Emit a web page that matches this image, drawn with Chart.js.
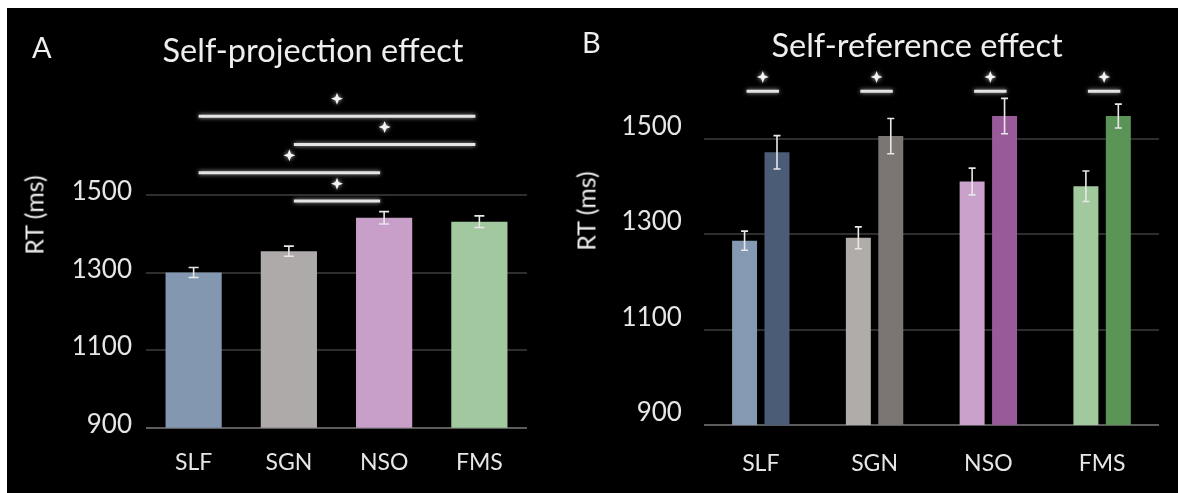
<!DOCTYPE html>
<html>
<head>
<meta charset="utf-8">
<script src="https://cdn.jsdelivr.net/npm/chart.js@4.4.0/dist/chart.umd.min.js"></script>
<style>
  body { margin: 0; background: #fff; width: 1178px; height: 493px; overflow: hidden; font-family: Lato, sans-serif; }
  #panel { position: absolute; left: 7px; top: 8px; width: 1171px; height: 485px; background: #000; }
  canvas { position: absolute; top: 0; }
  #chartA { left: 0; }
  #chartB { left: 560px; }
  .txt { position: absolute; color: #eeeeee; line-height: 1; white-space: nowrap; }
  .title { transform: translateX(-50%); font-size: 32.5px; }
  .ylab { font-size: 25px; transform: translate(-50%, -50%) rotate(-90deg); }
</style>
</head>
<body>
<div id="panel"></div>
<canvas id="chartA" width="560" height="493"></canvas>
<canvas id="chartB" width="618" height="493"></canvas>
<div class="txt" style="left:32px;top:32px;font-size:29px">A</div>
<div class="txt title" style="left:313px;top:34px">Self-projection effect</div>
<div class="txt ylab" style="left:34px;top:215px">RT (ms)</div>
<div class="txt" style="left:582px;top:27px;font-size:29px">B</div>
<div class="txt title" style="left:917px;top:29px">Self-reference effect</div>
<div class="txt ylab" style="left:586px;top:211px">RT (ms)</div>
<script>
var categories = ["SLF", "SGN", "NSO", "FMS"];
var yTicks = [900, 1100, 1300, 1500];

// panel A
var aValues = [1300, 1355, 1441, 1431];
var aErrors = [13, 13, 16, 15];
var aColors = ["#8397b0", "#aeaaa9", "#c79fc9", "#a2c89f"];
// significance brackets in A: from category, to category, height (ms)
var aSigFrom = [0, 1, 0, 1];
var aSigTo = [3, 3, 2, 2];
var aSigLevel = [1703, 1630, 1557, 1484];

// panel B
var bCond1 = [1286, 1292, 1410, 1400];
var bCond1Err = [20, 23, 28, 32];
var bCond2 = [1471, 1505, 1547, 1547];
var bCond2Err = [35, 37, 37, 25];
var bColors1 = ["#8599b3", "#b0aca9", "#c9a1cb", "#a2c89e"];
var bColors2 = ["#4b5c76", "#7b7574", "#985a98", "#5a9457"];
var bSigLevel = [1599, 1599, 1599, 1599];

var textColor = "#e6e6e6";
var font = "Lato, sans-serif";

var errorBars = {
  id: "errorBars",
  afterDatasetsDraw: function (chart, args, opts) {
    var ctx = chart.ctx, y = chart.scales.y;
    ctx.save();
    ctx.strokeStyle = "#e8e8e8";
    ctx.lineWidth = 1.6;
    chart.data.datasets.forEach(function (ds, i) {
      chart.getDatasetMeta(i).data.forEach(function (bar, j) {
        var t = y.getPixelForValue(ds.data[j] + ds.errors[j]);
        var b = y.getPixelForValue(ds.data[j] - ds.errors[j]);
        var w = opts.cap / 2;
        ctx.beginPath();
        ctx.moveTo(bar.x, t); ctx.lineTo(bar.x, b);
        ctx.moveTo(bar.x - w, t); ctx.lineTo(bar.x + w, t);
        ctx.moveTo(bar.x - w, b); ctx.lineTo(bar.x + w, b);
        ctx.stroke();
      });
    });
    ctx.restore();
  }
};

function star(ctx, x, y, r) {
  ctx.beginPath();
  for (var k = 0; k < 8; k++) {
    var ang = k * Math.PI / 4 - Math.PI / 2;
    var rad = k % 2 ? r * 0.4 : r;
    ctx.lineTo(x + rad * Math.cos(ang), y + rad * Math.sin(ang));
  }
  ctx.closePath();
  ctx.fill();
}

// brackets + stars; opts.get returns [x1, x2, value] list
var sigMarks = {
  id: "sigMarks",
  afterDraw: function (chart, args, opts) {
    var ctx = chart.ctx, y = chart.scales.y;
    ctx.save();
    ctx.strokeStyle = "#e4e4e4";
    ctx.fillStyle = "#f4f4f4";
    ctx.lineWidth = 3;
    ctx.shadowColor = "rgba(255,255,255,0.7)";
    ctx.shadowBlur = 4;
    opts.get(chart).forEach(function (s) {
      var py = y.getPixelForValue(s[2]);
      ctx.beginPath();
      ctx.moveTo(s[0], py); ctx.lineTo(s[1], py);
      ctx.stroke();
      star(ctx, (s[0] + s[1]) / 2, y.getPixelForValue(s[2] + opts.starGap), 6);
    });
    ctx.restore();
  }
};

function yScale(max, width, pad, offset) {
  return {
    min: 900, max: max,
    afterBuildTicks: function (a) { a.ticks = yTicks.map(function (v) { return { value: v }; }); },
    grid: { color: function (c) { return c.tick.value === 900 ? "#5c5c5c" : "#2e2e2e"; }, lineWidth: 2, drawTicks: false },
    border: { display: false },
    ticks: { color: textColor, font: { family: font, size: 26 }, padding: pad, labelOffset: offset,
      callback: function (v) { return String(v); } },
    afterFit: function (a) { a.width = width; }
  };
}

function xScale(height, pad) {
  return {
    grid: { display: false, drawTicks: false },
    border: { display: false },
    ticks: { color: textColor, font: { family: font, size: 23 }, padding: pad },
    afterFit: function (a) { a.height = height; }
  };
}

new Chart(document.getElementById("chartA"), {
  type: "bar",
  data: {
    labels: categories,
    datasets: [{ data: aValues, errors: aErrors, backgroundColor: aColors,
      categoryPercentage: 1, barPercentage: 0.59 }]
  },
  options: {
    responsive: false, animation: false,
    layout: { padding: { left: 0, right: 33, top: 78.5, bottom: 0 } },
    plugins: {
      legend: { display: false }, tooltip: { enabled: false },
      errorBars: { cap: 10 },
      sigMarks: {
        starGap: 45,
        get: function (chart) {
          var x = chart.scales.x;
          return aSigFrom.map(function (f, i) {
            return [x.getPixelForValue(f) + 5, x.getPixelForValue(aSigTo[i]) - 4, aSigLevel[i]];
          });
        }
      }
    },
    scales: { x: xScale(65.3, 21), y: yScale(1800, 146, 14, -3) }
  },
  plugins: [errorBars, sigMarks]
});

new Chart(document.getElementById("chartB"), {
  type: "bar",
  data: {
    labels: categories,
    datasets: [
      { data: bCond1, errors: bCond1Err, backgroundColor: bColors1, categoryPercentage: 0.57, barPercentage: 0.77 },
      { data: bCond2, errors: bCond2Err, backgroundColor: bColors2, categoryPercentage: 0.57, barPercentage: 0.77 }
    ]
  },
  options: {
    responsive: false, animation: false,
    layout: { padding: { left: 0, right: 19, top: 43, bottom: 0 } },
    plugins: {
      legend: { display: false }, tooltip: { enabled: false },
      errorBars: { cap: 7 },
      sigMarks: {
        starGap: 30,
        get: function (chart) {
          var m1 = chart.getDatasetMeta(0).data, m2 = chart.getDatasetMeta(1).data;
          return bSigLevel.map(function (v, i) { return [m1[i].x + 2, m2[i].x + 2, v]; });
        }
      }
    },
    scales: { x: xScale(68, 24.8), y: yScale(1700, 143.9, 22, -12) }
  },
  plugins: [errorBars, sigMarks]
});
</script>
</body>
</html>
